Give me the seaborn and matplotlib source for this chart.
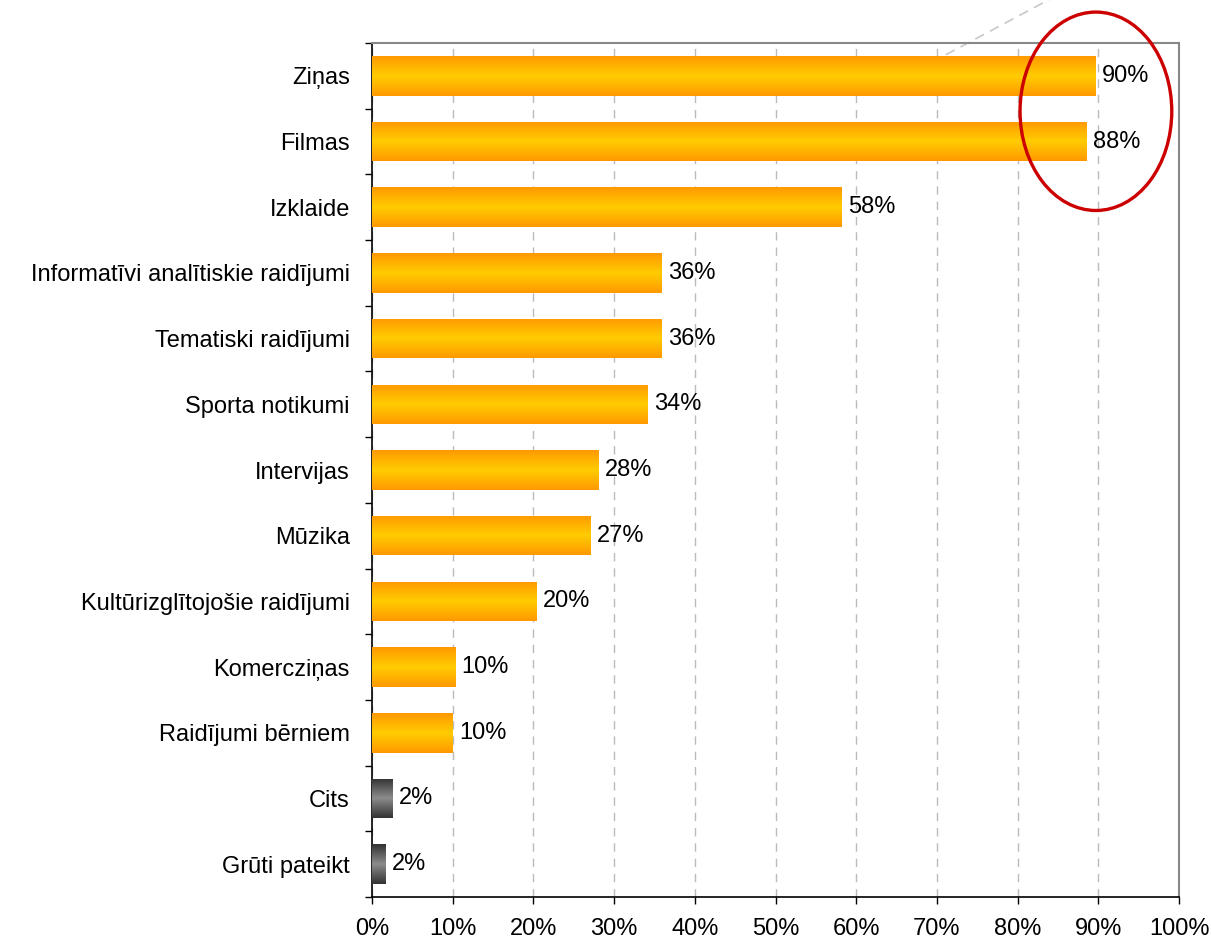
import numpy as np
import pandas as pd
import seaborn as sns
import matplotlib.pyplot as plt
from matplotlib.patches import Ellipse

categories = ["Ziņas", "Filmas", "Izklaide", "Informatīvi analītiskie raidījumi",
              "Tematiski raidījumi", "Sporta notikumi", "Intervijas", "Mūzika",
              "Kultūrizglītojošie raidījumi", "Komercziņas", "Raidījumi bērniem",
              "Cits", "Grūti pateikt"]
values = [89.7, 88.5, 58.2, 35.9, 35.9, 34.2, 28.1, 27.1, 20.4, 10.3, 10.0, 2.5, 1.7]
labels = ["90%", "88%", "58%", "36%", "36%", "34%", "28%", "27%", "20%", "10%", "10%", "2%", "2%"]
is_other = [False] * 11 + [True, True]

sns.set_style("white")
plt.rcParams['font.family'] = ['Liberation Sans', 'DejaVu Sans']
plt.rcParams['text.color'] = 'black'
plt.rcParams['xtick.color'] = 'black'
plt.rcParams['ytick.color'] = 'black'

df = pd.DataFrame({"cat": categories, "val": values})

fig = plt.figure(figsize=(12.11, 9.40), dpi=100)
ax = fig.add_axes([0.3072, 0.0457, 0.9736 - 0.3072, 0.9543 - 0.0457])

sns.barplot(data=df, x="val", y="cat", orient="h", color="#FFB000", width=0.6, ax=ax,
            edgecolor="none", zorder=3)

# gradient fill: dark edges, light centre
t = np.linspace(0, 1, 64)
w = np.abs(t - 0.5) * 2
orange = np.array([1.0, 0.6, 0.0])
yellow = np.array([1.0, 0.8, 0.0])
dark = np.array([0.2, 0.2, 0.2])
light = np.array([0.55, 0.55, 0.55])
for patch, other in zip(ax.patches, is_other):
    x0, y0 = patch.get_x(), patch.get_y()
    bw, bh = patch.get_width(), patch.get_height()
    c_edge, c_mid = (dark, light) if other else (orange, yellow)
    grad = c_mid[None, :] * (1 - w[:, None]) + c_edge[None, :] * w[:, None]
    img = ax.imshow(grad[:, None, :], extent=[x0, x0 + bw, y0 + bh, y0], aspect="auto",
                    interpolation="bilinear", zorder=3)
    img.set_clip_path(patch)
    patch.set_facecolor("none")

fs = 17
for i, (v, lab) in enumerate(zip(values, labels)):
    ax.text(v + 0.8, i, lab, va="center", ha="left", fontsize=fs, zorder=5)

ax.set_xlim(0, 100)
ax.set_ylim(12.5, -0.5)
ax.set_xticks(np.arange(0, 101, 10))
ax.set_xticklabels([f"{x}%" for x in range(0, 101, 10)], fontsize=fs)
ax.set_yticks(range(len(categories)))
ax.set_yticklabels(categories, fontsize=fs)
ax.set_yticks(np.arange(-0.5, 12.6, 1), minor=True)
ax.tick_params(axis="y", which="both", left=True)
ax.tick_params(axis="y", which="major", length=0, pad=16)
ax.tick_params(axis="y", which="minor", length=5, direction="out", width=1)
ax.tick_params(axis="x", bottom=True, length=5, direction="out", width=1, pad=10)
ax.set_xlabel("")
ax.set_ylabel("")

ax.grid(axis="x", color="#BBBBBB", linestyle=(0, (6, 5)), linewidth=1, zorder=0)
for s in ["left", "bottom"]:
    ax.spines[s].set_color("black")
    ax.spines[s].set_linewidth(1.2)
for s in ["top", "right"]:
    ax.spines[s].set_color("#888888")
    ax.spines[s].set_linewidth(1.5)

# red ellipse highlighting the top two
ax.add_patch(Ellipse((89.7, 0.54), 18.8, 3.02, fill=False, edgecolor="#CC0000",
                     linewidth=2.4, clip_on=False, zorder=6))
ax.plot([71.1, 86.5], [-0.32, -1.33], color="#C8C8C8", linestyle=(0, (6, 4)),
        linewidth=1.2, clip_on=False, zorder=2)

fig.savefig("out.png", dpi=100)
